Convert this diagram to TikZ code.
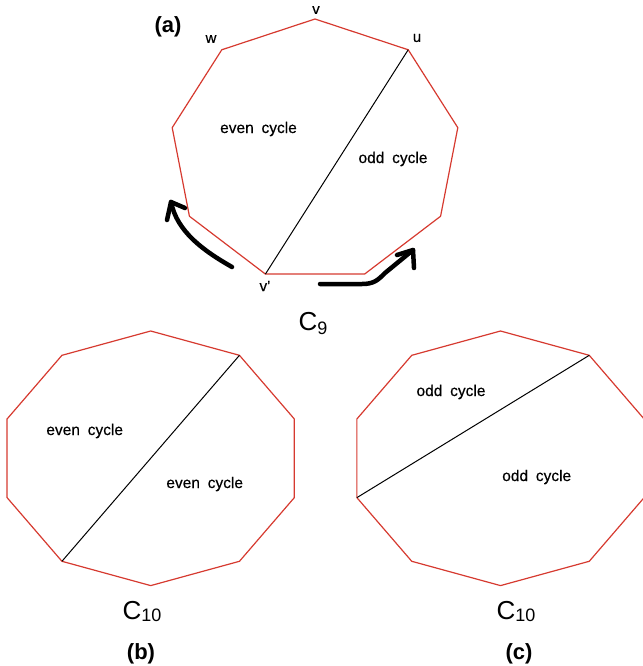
\documentclass[tikz,border=0pt]{standalone}
\usepackage{fontspec}
\setmainfont{Liberation Sans}
\usetikzlibrary{positioning}
\definecolor{edgered}{RGB}{214,58,48}
\newcommand{\capsub}[2][2pt]{\raisebox{-#1}{\fontsize{18}{18}\selectfont #2}}

\begin{document}
\begin{tikzpicture}[x=1pt, y=-1pt,
    edge/.style={draw=edgered, line width=1.2pt},
    chord/.style={draw=black, line width=1pt},
    lbl/.style={font=\fontsize{15.5}{18}\selectfont\addfontfeature{FakeBold=0.4}, inner sep=0pt},
    vtx/.style={font=\fontsize{15}{17}\selectfont\addfontfeature{FakeBold=0.4}, inner sep=0pt},
    tag/.style={font=\bfseries\fontsize{22}{24}\selectfont, inner sep=0pt},
    cname/.style={font=\fontsize{26}{28}\selectfont, inner sep=0pt},
    hand/.style={draw=black, line width=4.5pt, line cap=round, line join=round}
  ]
  \useasboundingbox (0,0) rectangle (642,666);

  % (a): C9, v on top, clockwise
  \foreach \i in {0,...,8}
    \coordinate (a\i) at ({315+145*cos(90-40*\i)}, {150.5-131.5*sin(90-40*\i)});
  \draw[edge] (a0) \foreach \i in {1,...,8} {-- (a\i)} -- cycle;
  \draw[chord] (a1) -- (a5);
  \node[tag] (taga) at (168,27) {(a)};
  \node[vtx] (lv) at (316,10) {v};
  \node[vtx] (lu) at (417,38) {u};
  \node[vtx] (lw) at (211,39) {w};
  \node[vtx] (lvp) at (265,286) {v'};
  \node[lbl] (evena) at (258.5,129) {even\hspace{.5em}cycle};
  \node[lbl] (odda) at (393,159) {odd\hspace{.5em}cycle};
  \node[cname] (capa) at (313,324) {C\capsub[4pt]{9}};

  % hand drawn arrows
  \coordinate (ltail) at (232,267);
  \coordinate (lhead) at (171,202);
  \coordinate (lbarb1) at (167,220);
  \coordinate (lbarb2) at (185,208);
  \draw[hand] (ltail) .. controls (204,251) and (177,232) .. (lhead);
  \draw[hand] (lbarb1) -- (lhead) -- (lbarb2);
  \coordinate (rtail) at (320,284);
  \coordinate (rhead) at (413,250);
  \coordinate (rbarb1) at (397,255);
  \coordinate (rbarb2) at (414,268);
  \draw[hand] (rtail) -- (362,284) .. controls (374,284) and (378,280) .. (385,273) -- (rhead);
  \draw[hand] (rbarb1) -- (rhead) -- (rbarb2);

  % (b): C10, chord between opposite vertices
  \foreach \i in {0,...,9}
    \coordinate (b\i) at ({150.7+151*cos(90-36*\i)}, {458.3-127.3*sin(90-36*\i)});
  \draw[edge] (b0) \foreach \i in {1,...,9} {-- (b\i)} -- cycle;
  \draw[chord] (b1) -- (b6);
  \node[lbl] (evenb1) at (84.7,431) {even\hspace{.5em}cycle};
  \node[lbl] (evenb2) at (204.7,484) {even\hspace{.5em}cycle};
  \node[cname] (capb) at (142,612) {C\capsub{10}};
  \node[tag] (tagb) at (141,654) {(b)};

  % (c): C10, chord splitting 4 and 6 edges
  \foreach \i in {0,...,9}
    \coordinate (c\i) at ({500.5+151*cos(90-36*\i)}, {458.3-127.3*sin(90-36*\i)});
  \draw[edge] (c0) \foreach \i in {1,...,9} {-- (c\i)} -- cycle;
  \draw[chord] (c1) -- (c7);
  \node[lbl] (oddc1) at (451,392) {odd\hspace{.5em}cycle};
  \node[lbl] (oddc2) at (536.7,477) {odd\hspace{.5em}cycle};
  \node[cname] (capc) at (516,612) {C\capsub{10}};
  \node[tag] (tagc) at (519,654) {(c)};
\end{tikzpicture}
\end{document}
